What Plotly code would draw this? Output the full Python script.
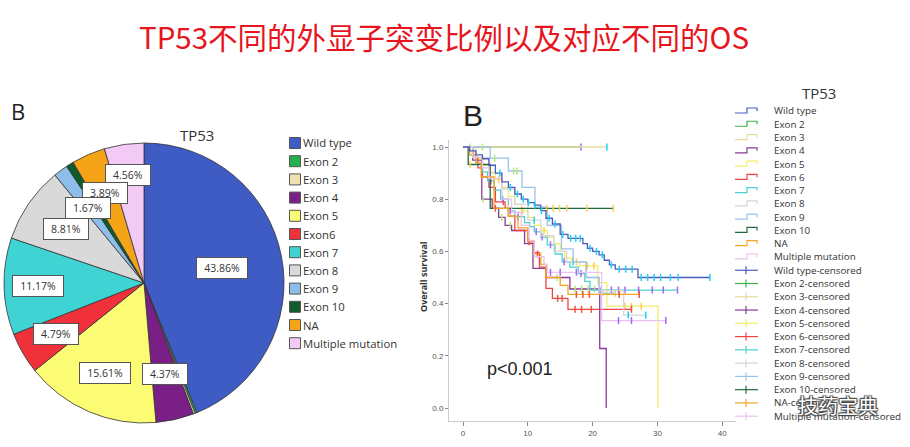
import math
import plotly.graph_objects as go

W, H = 910, 447

# ---------------- data ----------------
pie_labels = ["Wild type", "Exon 2", "Exon 3", "Exon 4", "Exon 5", "Exon6", "Exon 7",
              "Exon 8", "Exon 9", "Exon 10", "NA", "Multiple mutation"]
pie_pct = [43.86, 0.21, 0.21, 4.37, 15.61, 4.79, 11.17, 8.81, 1.67, 0.87, 3.89, 4.56]
pie_colors = ["#3f5bc4", "#22b14c", "#efe0b0", "#7a1f86", "#fbfb74", "#f0313a", "#3fd3d3",
              "#d9d9d9", "#8dbde8", "#0d5c2a", "#f5a418", "#f3c9f5"]
# style: radial position of each percentage box (fraction of the radius)
pie_label_radius = [0.57, 0.7, 0.7, 0.67, 0.70, 0.73, 0.76, 0.68, 0.67, 0.7, 0.70, 0.78]

km_groups = ["Wild type", "Exon 2", "Exon 3", "Exon 4", "Exon 5", "Exon 6", "Exon 7",
             "Exon 8", "Exon 9", "Exon 10", "NA", "Multiple mutation"]
km_colors = ["#4a5dbf", "#3cb44b", "#e8dca0", "#8b3a9b", "#f3ee6a", "#ee4444", "#4fd0d0",
             "#d6d6d6", "#9cc3e6", "#1e6b3f", "#f5a623", "#eac3ee"]

km_event_times = [
    [1, 2, 3, 4, 5, 6, 7, 8, 9, 10, 11, 12, 12.8, 13.8, 15, 16.2, 18.5, 19.2, 20, 21, 21.8, 22.6, 23.5, 27],
    [],
    [],
    [1.5, 2.9, 4.5, 5.5, 6.5, 7.5, 9.5, 10.8, 12.8, 16.5, 21.1, 22.1],
    [1, 2, 3, 4, 5, 6, 7, 8, 9, 10, 11, 12, 13, 14, 15, 15.7, 16.8, 18, 20.8, 22.2, 30.1],
    [1.5, 2.3, 3, 4, 5, 6.5, 7, 8, 10, 11, 11.8, 12.8, 13.8, 16.2],
    [1, 2, 3, 3.8, 4.8, 5.8, 7, 8, 9.5, 10.3, 11, 12, 13, 14.2, 15.3, 16.5, 17.8, 18.8, 19.6],
    [2, 4, 6, 8, 10, 12, 14, 16, 19, 21, 24.8],
    [4.2, 7, 9.1, 11.1, 13, 15.2, 17, 19, 21],
    [0.8, 4.2],
    [1, 2, 2.8, 4.8, 7, 8.5, 10, 11, 12, 12.8, 15, 16.2],
    [1.5, 3, 4, 6, 7.5, 9, 10.2, 11, 12.5, 13, 21.4],
]
km_survival = [
    [0.985, 0.97, 0.955, 0.93, 0.90, 0.866, 0.845, 0.82, 0.80, 0.787, 0.777, 0.756, 0.727, 0.705,
     0.665, 0.65, 0.63, 0.612, 0.60, 0.587, 0.566, 0.548, 0.532, 0.50],
    [],
    [],
    [0.95, 0.80, 0.765, 0.73, 0.70, 0.68, 0.63, 0.535, 0.50, 0.456, 0.228, 0.0],
    [0.98, 0.955, 0.93, 0.905, 0.875, 0.845, 0.81, 0.78, 0.755, 0.73, 0.70, 0.68, 0.655, 0.63,
     0.60, 0.575, 0.56, 0.545, 0.48, 0.39, 0.0],
    [0.96, 0.92, 0.885, 0.845, 0.79, 0.765, 0.735, 0.68, 0.637, 0.595, 0.54, 0.458, 0.42, 0.378],
    [0.97, 0.94, 0.905, 0.87, 0.835, 0.80, 0.755, 0.733, 0.71, 0.695, 0.675, 0.655, 0.625, 0.59,
     0.56, 0.54, 0.515, 0.485, 0.452],
    [0.96, 0.9, 0.84, 0.78, 0.72, 0.66, 0.6, 0.56, 0.5, 0.45, 0.356],
    [0.957, 0.908, 0.845, 0.77, 0.70, 0.61, 0.56, 0.5, 0.44],
    [0.933, 0.765],
    [0.97, 0.94, 0.885, 0.765, 0.735, 0.69, 0.64, 0.59, 0.55, 0.50, 0.47, 0.435],
    [0.96, 0.92, 0.88, 0.80, 0.75, 0.70, 0.64, 0.58, 0.55, 0.52, 0.335],
]
km_censor_times = [
    [5.7, 7.3, 8.4, 9.3, 10.1, 11.1, 12.1, 13.3, 14.2, 15.4, 16.6, 17.4, 18.1, 19.6, 20.6, 21.5,
     22.9, 24.1, 25.1, 26.1, 27.5, 28.5, 29.5, 30.5, 32, 33.2, 38.1],
    [18.2],
    [22.2],
    [3.1, 6.0, 7.3, 14.5, 17.3, 18.3, 19.3, 20.3],
    [5.5, 9.2, 12.5, 17.5, 19.2, 20.2, 25, 26, 27.5],
    [6.2, 10.2, 14.6, 15.3, 17.3, 18.3, 19.8, 26.0],
    [4.3, 6.1, 7.3, 8.5, 11.3, 12.2, 13.5, 15.6, 18.2, 21.1, 22.9, 24.0, 25.0, 27.1, 29.2, 30.9, 33.1],
    [11, 17, 25.5, 28.2],
    [1.1, 3.0, 4.9, 7.8, 8.3, 21.5, 23.5],
    [1.1, 7.0, 12.9, 13.9, 14.9, 16.0, 19.1, 23.2],
    [5.0, 11.5, 17.5, 18.5, 19.5, 24.1, 27.2],
    [13.5, 15, 17.5, 24.0, 26.0, 31.3],
]
km_end = [38.1, 18.2, 22.2, 22.1, 30.1, 26.0, 33.1, 28.2, 23.5, 23.2, 27.2, 31.3]

y_ticks = [0.0, 0.2, 0.4, 0.6, 0.8, 1.0]
x_ticks = [0, 10, 20, 30, 40]

title_text = "TP53不同的外显子突变比例以及对应不同的OS"


# ---------------- helpers ----------------
def px(x):
    return x / W


def py(y):
    return 1 - y / H


def surv_at(T, S, t):
    s = 1.0
    for ti, si in zip(T, S):
        if ti <= t:
            s = si
    return s


def note(x, y, text, size, color="#333333", family="Open Sans", xa="center", ya="middle", **kw):
    return dict(x=px(x), y=py(y), xref="paper", yref="paper", text=text, showarrow=False,
                xanchor=xa, yanchor=ya, font=dict(family=family, size=size, color=color), **kw)


fig = go.Figure()
annotations = []

# ---------------- pie ----------------
pcx, pcy, pr = 144, 283, 140
fig.add_trace(go.Pie(
    labels=pie_labels, values=pie_pct, sort=False, direction="clockwise", rotation=0,
    marker=dict(colors=pie_colors, line=dict(color="#333333", width=0.8)),
    textinfo="none", hoverinfo="label+percent", showlegend=False,
    domain=dict(x=[px(pcx - pr), px(pcx + pr)], y=[py(pcy + pr), py(pcy - pr)]),
))

total = sum(pie_pct)
cum = 0.0
pie_notes = []
for lab, v, f in zip(pie_labels, pie_pct, pie_label_radius):
    mid = (cum + v / 2) / total * 2 * math.pi
    cum += v
    if v < 1:
        continue
    lx = pcx + f * pr * math.sin(mid)
    ly = pcy - f * pr * math.cos(mid)
    pie_notes.append(note(lx, ly, f"{v:.2f}%", 10.5, bgcolor="white", bordercolor="#555555",
                          borderwidth=1, borderpad=3, width=(7 if v >= 10 else 6) * 6.3))
annotations.extend(reversed(pie_notes))

annotations.append(note(197, 135, "TP53", 15))
annotations.append(note(18, 111, "B", 22, color="#222222"))

# pie legend (drawn on overlay axis)
leg_y0, leg_dy = 143, 18.2
fig.add_trace(go.Scatter(
    x=[295] * len(pie_labels), y=[leg_y0 + i * leg_dy for i in range(len(pie_labels))],
    mode="markers", xaxis="x2", yaxis="y2", hoverinfo="skip", showlegend=False,
    marker=dict(symbol="square", size=11, color=pie_colors, line=dict(color="#555555", width=1)),
))
for i, lab in enumerate(pie_labels):
    annotations.append(note(301, leg_y0 + i * leg_dy, lab, 11.3, xa="left"))

# ---------------- KM curves ----------------
order = list(range(1, len(km_groups))) + [0]
for g in order:
    T, S = km_event_times[g], km_survival[g]
    xs = [0] + T + [km_end[g]]
    ys = [1.0] + S + [S[-1] if S else 1.0]
    fig.add_trace(go.Scatter(x=xs, y=ys, mode="lines", line=dict(shape="hv", color=km_colors[g], width=1.3),
                             name=km_groups[g], showlegend=False, hoverinfo="skip"))
    cx = km_censor_times[g]
    cy = [surv_at(T, S, t) for t in cx]
    fig.add_trace(go.Scatter(x=cx, y=cy, mode="markers", name=km_groups[g] + "-censored",
                             marker=dict(symbol="line-ns-open", size=5, line=dict(color=km_colors[g], width=1.5)),
                             showlegend=False, hoverinfo="skip"))

# KM legend (manual, overlay axis)
kl_y0, kl_dy = 111, 13.27
n = len(km_groups)
for g in range(n):
    y = kl_y0 + g * kl_dy
    fig.add_trace(go.Scatter(x=[735, 747, 747, 757, 757], y=[y + 2, y + 2, y - 3, y - 3, y],
                             mode="lines", line=dict(color=km_colors[g], width=1.2),
                             xaxis="x2", yaxis="y2", hoverinfo="skip", showlegend=False))
    annotations.append(note(772, y, km_groups[g], 9.8, xa="left"))
for g in range(n):
    y = kl_y0 + (g + n) * kl_dy
    fig.add_trace(go.Scatter(x=[735, 758, None, 746, 746], y=[y, y, None, y - 4, y + 4],
                             mode="lines", line=dict(color=km_colors[g], width=1.2),
                             xaxis="x2", yaxis="y2", hoverinfo="skip", showlegend=False))
    annotations.append(note(772, y, km_groups[g] + "-censored", 9.8, xa="left"))

annotations.append(note(819, 93, "TP53", 15))
annotations.append(note(473, 116, "B", 30, color="#222222", family="Liberation Sans"))
annotations.append(note(485, 369, "p<0.001", 18, color="#222222", family="Liberation Sans", xa="left"))
annotations.append(note(423, 277, "<b>Overall survival</b>", 9, textangle=-90))

# main title
annotations.append(note(444, 36, title_text, 29.5, color="#e8141e", family="Noto Sans CJK SC"))

# watermark
annotations.append(note(838, 405, "技药宝典", 20, color="white", family="Noto Sans CJK SC"))
annotations[-1]["font"]["shadow"] = "1px 1px 1px #444, -1px -1px 1px #444, 1px -1px 1px #444, -1px 1px 1px #444"

x0_px, x1_px = 449, 736
y_top_px, y_bot_px = 140, 421
fig.update_layout(
    width=W, height=H, margin=dict(l=0, r=0, t=0, b=0, pad=0),
    paper_bgcolor="white", plot_bgcolor="rgba(0,0,0,0)", showlegend=False,
    annotations=annotations,
    xaxis=dict(domain=[px(x0_px), px(x1_px)], range=[(x0_px - 463) / 6.48, (x1_px - 463) / 6.48],
               tickvals=x_ticks, ticktext=[str(v) for v in x_ticks], ticks="outside", ticklen=4,
               tickcolor="#888888", showline=True, linecolor="#cccccc", linewidth=1,
               showgrid=False, zeroline=False, tickfont=dict(family="Liberation Sans", size=8, color="#555555")),
    yaxis=dict(domain=[py(y_bot_px), py(y_top_px)], range=[(408 - y_bot_px) / 261, (408 - y_top_px) / 261],
               tickvals=y_ticks, ticktext=[f"{v:.1f}" for v in y_ticks], ticks="outside", ticklen=3,
               tickcolor="#888888", showline=True, linecolor="#cccccc", linewidth=1,
               showgrid=False, zeroline=False, tickfont=dict(family="Liberation Sans", size=8, color="#555555")),
    xaxis2=dict(domain=[0, 1], range=[0, W], visible=False, fixedrange=True),
    yaxis2=dict(domain=[0, 1], range=[H, 0], visible=False, fixedrange=True),
)

fig.write_html("out.html", config={"displayModeBar": False},
               post_script="document.body.style.margin='0';document.body.style.overflow='hidden';")
